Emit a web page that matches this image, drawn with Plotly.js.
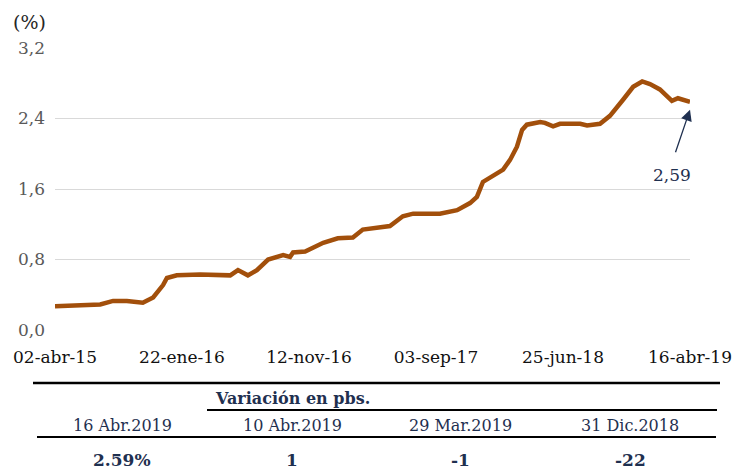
<!DOCTYPE html>
<html>
<head>
<meta charset="utf-8">
<script src="https://cdn.plot.ly/plotly-3.0.1.min.js"></script>
<style>
html,body{margin:0;padding:0;background:#fff;}
#chart{width:738px;height:470px;}
</style>
</head>
<body>
<div id="chart"></div>
<script>
// ---- data ----
const dates = [
  '2015-04-02','2015-05-15','2015-07-16','2015-08-15','2015-09-16','2015-10-23','2015-11-16',
  '2015-12-09','2015-12-18','2016-01-10','2016-03-04','2016-05-13','2016-05-31','2016-06-23',
  '2016-07-14','2016-08-09','2016-09-13','2016-09-29','2016-10-06','2016-11-03','2016-12-15',
  '2017-01-18','2017-02-22','2017-03-17','2017-04-03','2017-05-19','2017-06-18','2017-07-12',
  '2017-09-12','2017-10-22','2017-11-21','2017-12-07','2017-12-21','2018-02-06','2018-02-22',
  '2018-03-10','2018-03-22','2018-04-02','2018-05-03','2018-05-14','2018-06-02','2018-06-18',
  '2018-08-04','2018-08-20','2018-09-19','2018-10-12','2018-11-11','2018-12-05','2018-12-26',
  '2019-01-13','2019-02-05','2019-03-05','2019-03-19','2019-04-16'
];
const rates = [
  0.27,0.28,0.29,0.33,0.33,0.31,0.37,
  0.51,0.59,0.62,0.63,0.62,0.68,0.62,
  0.68,0.80,0.85,0.83,0.88,0.89,0.99,
  1.04,1.05,1.14,1.15,1.18,1.29,1.32,
  1.32,1.36,1.44,1.51,1.68,1.82,1.93,
  2.08,2.27,2.33,2.36,2.35,2.31,2.34,
  2.34,2.32,2.34,2.43,2.61,2.76,2.82,
  2.79,2.73,2.60,2.63,2.59
];
const tickDates = ['2015-04-02','2016-01-22','2016-11-12','2017-09-03','2018-06-25','2019-04-16'];
const tickLabels = ['02-abr-15','22-ene-16','12-nov-16','03-sep-17','25-jun-18','16-abr-19'];
const lastLabel = '2,59';
const tableTitle = 'Variación en pbs.';
const tableHeaders = ['16 Abr.2019','10 Abr.2019','29 Mar.2019','31 Dic.2018'];
const tableValues = ['2.59%','1','-1','-22'];

// ---- layout helpers (pixel -> paper) ----
const L = 55, R = 690, T = 48, B = 330;
const px = x => (x - L) / (R - L);
const py = y => (B - y) / (B - T);
const FONT = 'DejaVu Serif, Liberation Serif, serif';
const NAVY = '#1f3050';

const colX = [122, 292, 460, 630];

const annotations = [
  {xref:'paper', yref:'paper', x: px(11), y: py(22), xanchor:'left', yanchor:'middle',
   text:'(%)', showarrow:false, font:{family:FONT, size:19, color:'#262626'}},
  // arrow
  {x: dates[dates.length-1], y: 2.50, xref:'x', yref:'y', ax: -15, ay: 44,
   text:'', showarrow:true, arrowhead:2, arrowsize:1.7, arrowwidth:1.3, arrowcolor:NAVY},
  {x: px(672), y: py(175), xref:'paper', yref:'paper', text:lastLabel, showarrow:false,
   xanchor:'center', yanchor:'middle', font:{family:FONT, size:17, color:NAVY}},
  {x: px(292), y: py(398), xref:'paper', yref:'paper', text:'<b>'+tableTitle+'</b>', showarrow:false,
   xanchor:'center', yanchor:'middle', font:{family:FONT, size:16, color:NAVY}}
];
tableHeaders.forEach((h,i)=>annotations.push({x:px(colX[i]), y:py(425), xref:'paper', yref:'paper',
  text:h, showarrow:false, xanchor:'center', yanchor:'middle', font:{family:FONT, size:16, color:NAVY}}));
tableValues.forEach((v,i)=>annotations.push({x:px(colX[i]), y:py(460), xref:'paper', yref:'paper',
  text:'<b>'+v+'</b>', showarrow:false, xanchor:'center', yanchor:'middle', font:{family:FONT, size:17, color:NAVY}}));

const shapes = [
  {type:'line', xref:'paper', yref:'paper', x0:px(33), x1:px(720), y0:py(383), y1:py(383), line:{color:'#000', width:2.5}},
  {type:'line', xref:'paper', yref:'paper', x0:px(207), x1:px(717), y0:py(410), y1:py(410), line:{color:'#000', width:2.2}},
  {type:'line', xref:'paper', yref:'paper', x0:px(37), x1:px(716), y0:py(437), y1:py(437), line:{color:'#000', width:2.2}}
];

const trace = {
  x: dates, y: rates, type:'scatter', mode:'lines',
  line:{color:'#a24f0b', width:4.5}, hoverinfo:'skip'
};

const layout = {
  width:738, height:470,
  margin:{l:L, r:738-R, t:T, b:470-B},
  paper_bgcolor:'#fff', plot_bgcolor:'#fff',
  separators:',.',
  showlegend:false,
  xaxis:{type:'date', range:['2015-04-02','2019-04-16'], tickmode:'array',
    tickvals:tickDates, ticktext:tickLabels, showgrid:false, zeroline:false, showline:false,
    ticks:'', tickfont:{family:FONT, size:17, color:'#111'}, ticklabelstandoff:15, fixedrange:true},
  yaxis:{range:[0,3.2], dtick:0.8, tick0:0, tickformat:'.1f', showgrid:true, gridcolor:'#d9d9d9',
    gridwidth:1, zeroline:false, showline:false, ticks:'',
    tickfont:{family:FONT, size:17, color:'#595959'}, ticklabelstandoff:9, fixedrange:true},
  annotations: annotations,
  shapes: shapes
};

Plotly.newPlot('chart', [trace], layout, {displayModeBar:false, staticPlot:true});
</script>
</body>
</html>
